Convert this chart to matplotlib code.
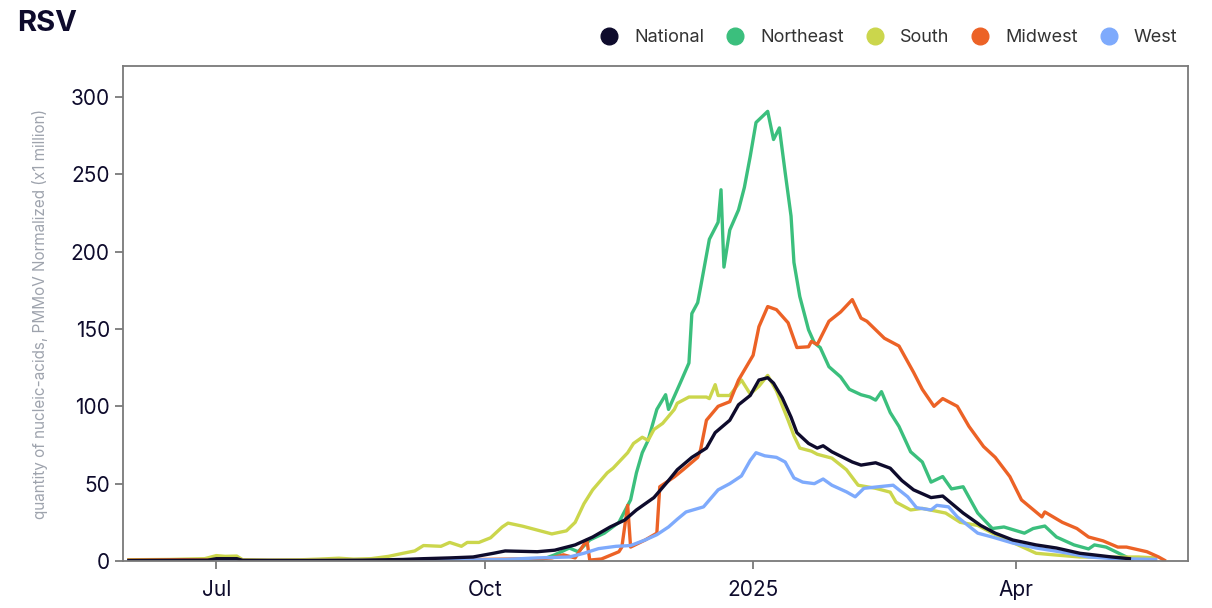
import matplotlib
matplotlib.use("Agg")
import matplotlib.pyplot as plt
from matplotlib.lines import Line2D
import pandas as pd

plt.rcParams['font.family'] = ['Inter', 'DejaVu Sans']

# --- data ---
national_dates = ["2024-06-01", "2024-06-28", "2024-07-01", "2024-07-08", "2024-07-10", "2024-08-01",
                  "2024-08-20", "2024-09-03", "2024-09-10", "2024-09-19", "2024-09-27", "2024-10-04",
                  "2024-10-08", "2024-10-19", "2024-10-25", "2024-11-01", "2024-11-07", "2024-11-13",
                  "2024-11-18", "2024-11-22", "2024-11-28", "2024-12-03", "2024-12-06", "2024-12-11",
                  "2024-12-16", "2024-12-19", "2024-12-24", "2024-12-27", "2024-12-31", "2025-01-03",
                  "2025-01-06", "2025-01-08", "2025-01-11", "2025-01-14", "2025-01-16", "2025-01-20",
                  "2025-01-23", "2025-01-25", "2025-01-28", "2025-02-04", "2025-02-07", "2025-02-12",
                  "2025-02-17", "2025-02-21", "2025-02-25", "2025-03-03", "2025-03-07", "2025-03-14",
                  "2025-03-20", "2025-03-25", "2025-03-31", "2025-04-08", "2025-04-15", "2025-04-23",
                  "2025-05-04", "2025-05-10"]
national_vals = [0.3, 0.5, 1.5, 1.5, 0.4, 0.3, 0.5, 1, 1.5, 2, 2.6, 5,
                 6.5, 6, 7, 10.4, 15.5, 22, 26.5, 33, 41, 52, 59, 67,
                 73, 83, 91, 101, 107, 117, 118.5, 115, 105.5, 93, 83, 76,
                 73, 74.5, 70.6, 64, 62, 63.5, 60, 52, 46, 41, 42, 31,
                 23, 18, 13.6, 10.4, 8.4, 5, 2.6, 1.5]

northeast_dates = ["2024-06-01", "2024-08-01", "2024-10-20", "2024-10-25", "2024-10-30", "2024-11-02",
                   "2024-11-06", "2024-11-11", "2024-11-16", "2024-11-20", "2024-11-22", "2024-11-24",
                   "2024-11-26", "2024-11-29", "2024-12-02", "2024-12-03", "2024-12-07", "2024-12-10",
                   "2024-12-11", "2024-12-13", "2024-12-14", "2024-12-17", "2024-12-20", "2024-12-21",
                   "2024-12-22", "2024-12-24", "2024-12-27", "2024-12-29", "2024-12-31", "2025-01-02",
                   "2025-01-06", "2025-01-08", "2025-01-10", "2025-01-12", "2025-01-14", "2025-01-15",
                   "2025-01-17", "2025-01-20", "2025-01-22", "2025-01-24", "2025-01-27", "2025-01-31",
                   "2025-02-03", "2025-02-07", "2025-02-10", "2025-02-12", "2025-02-14", "2025-02-17",
                   "2025-02-20", "2025-02-24", "2025-02-28", "2025-03-03", "2025-03-07", "2025-03-10",
                   "2025-03-14", "2025-03-19", "2025-03-24", "2025-03-28", "2025-04-04", "2025-04-07",
                   "2025-04-11", "2025-04-15", "2025-04-21", "2025-04-26", "2025-04-28", "2025-05-02",
                   "2025-05-09", "2025-05-11"]
northeast_vals = [0.2, 0.2, 0.5, 4, 8.4, 6,
                  13.6, 18, 25, 39.5, 57, 70,
                  78, 98, 107.5, 98, 115, 128,
                  160, 167, 177, 208, 219, 240,
                  190, 214, 227, 241.5, 261.5, 283.5,
                  290.7, 272.5, 280, 251, 223, 193,
                  171, 149.5, 141, 138, 125.6, 119,
                  111, 107.5, 106, 104, 109.5, 96,
                  87, 70.6, 64, 51, 54.6, 46.6,
                  48, 31, 21, 22, 18, 21,
                  22.6, 15.5, 10.4, 7.8, 10.4, 9,
                  2.6, 1]

south_dates = ["2024-06-01", "2024-06-15", "2024-06-27", "2024-07-01", "2024-07-04", "2024-07-08",
               "2024-07-10", "2024-07-19", "2024-07-30", "2024-08-05", "2024-08-12", "2024-08-17",
               "2024-08-23", "2024-08-29", "2024-09-03", "2024-09-07", "2024-09-10", "2024-09-16",
               "2024-09-19", "2024-09-23", "2024-09-25", "2024-09-29", "2024-10-03", "2024-10-07",
               "2024-10-09", "2024-10-14", "2024-10-20", "2024-10-24", "2024-10-29", "2024-11-01",
               "2024-11-04", "2024-11-07", "2024-11-12", "2024-11-14", "2024-11-19", "2024-11-21",
               "2024-11-24", "2024-11-26", "2024-11-28", "2024-12-01", "2024-12-05", "2024-12-06",
               "2024-12-10", "2024-12-16", "2024-12-17", "2024-12-19", "2024-12-20", "2024-12-24",
               "2024-12-28", "2024-12-31", "2025-01-03", "2025-01-06", "2025-01-09", "2025-01-13",
               "2025-01-15", "2025-01-17", "2025-01-21", "2025-01-23", "2025-01-28", "2025-02-02",
               "2025-02-06", "2025-02-12", "2025-02-17", "2025-02-19", "2025-02-24", "2025-02-28",
               "2025-03-08", "2025-03-13", "2025-03-19", "2025-03-24", "2025-03-31", "2025-04-08",
               "2025-04-14", "2025-04-23", "2025-05-04", "2025-05-13", "2025-05-19"]
south_vals = [0.8, 1.0, 1.5, 3.5, 3.0, 3.2,
              0.8, 0.6, 0.8, 1.2, 1.8, 1.2,
              1.5, 3, 5, 6.5, 10, 9.5,
              12, 9.5, 12, 12, 15, 22,
              24.5, 22.5, 19.5, 17.5, 19.5, 25,
              37, 46, 57, 60, 70, 76,
              80, 78, 85, 89, 98, 102,
              106, 106, 105, 114, 107, 107,
              117, 108, 113, 120, 110, 91,
              81, 73, 71, 69, 66.5, 59,
              49, 47, 44.5, 38, 33, 34,
              31, 25, 23, 18, 12, 5,
              4, 2.6, 2.5, 2.6, 2]

midwest_dates = ["2024-06-01", "2024-06-20", "2024-07-10", "2024-09-01", "2024-10-20", "2024-10-24",
                 "2024-10-28", "2024-11-01", "2024-11-05", "2024-11-06", "2024-11-10", "2024-11-16",
                 "2024-11-17", "2024-11-19", "2024-11-20", "2024-11-25", "2024-11-29", "2024-11-30",
                 "2024-12-05", "2024-12-08", "2024-12-13", "2024-12-14", "2024-12-16", "2024-12-20",
                 "2024-12-24", "2024-12-27", "2025-01-01", "2025-01-03", "2025-01-06", "2025-01-09",
                 "2025-01-13", "2025-01-16", "2025-01-20", "2025-01-21", "2025-01-23", "2025-01-27",
                 "2025-01-31", "2025-02-04", "2025-02-07", "2025-02-09", "2025-02-15", "2025-02-20",
                 "2025-02-25", "2025-02-28", "2025-03-04", "2025-03-07", "2025-03-12", "2025-03-16",
                 "2025-03-21", "2025-03-25", "2025-03-30", "2025-04-03", "2025-04-10", "2025-04-11",
                 "2025-04-17", "2025-04-22", "2025-04-26", "2025-05-01", "2025-05-06", "2025-05-09",
                 "2025-05-16", "2025-05-20", "2025-05-22"]
midwest_vals = [0.5, 0.8, 0.3, 0.3, 1.5, 2,
                4, 2, 13.6, 0.6, 1.3, 6,
                9, 36, 9, 13.6, 18, 48,
                54.4, 59, 67, 72, 91, 100,
                103, 117, 133, 151.5, 164.5, 162.5,
                154, 138, 138.5, 142, 140, 155,
                161, 169, 157, 155, 144, 139,
                122, 111, 100, 105, 100, 87,
                74, 67, 54.6, 39.5, 28.5, 31.7,
                25, 21, 15.5, 13, 9, 9,
                6, 2.6, 0.5]

west_dates = ["2024-06-01", "2024-09-01", "2024-10-01", "2024-10-08", "2024-10-19", "2024-10-30",
              "2024-11-04", "2024-11-09", "2024-11-15", "2024-11-20", "2024-11-25", "2024-11-29",
              "2024-12-03", "2024-12-06", "2024-12-09", "2024-12-15", "2024-12-20", "2024-12-24",
              "2024-12-28", "2024-12-31", "2025-01-02", "2025-01-05", "2025-01-09", "2025-01-12",
              "2025-01-15", "2025-01-18", "2025-01-22", "2025-01-25", "2025-01-28", "2025-02-02",
              "2025-02-05", "2025-02-08", "2025-02-13", "2025-02-18", "2025-02-23", "2025-02-26",
              "2025-03-03", "2025-03-05", "2025-03-09", "2025-03-12", "2025-03-19", "2025-03-24",
              "2025-03-31", "2025-04-08", "2025-04-16", "2025-04-26", "2025-05-04", "2025-05-19"]
west_vals = [0.2, 0.3, 0.8, 1, 2, 2.6,
             5, 8, 9.5, 10, 13.6, 17,
             22, 27, 31.7, 35, 46, 50,
             55, 65, 70, 68, 67, 64,
             53.7, 51, 50, 53, 49, 44.7,
             41.5, 47, 48, 49, 41.5, 34.5,
             33, 36, 35, 28.5, 18, 15.5,
             11.6, 8.4, 6, 2.6, 1.6, 1]

tick_dates = ["2024-07-01", "2024-10-01", "2025-01-01", "2025-04-01"]
tick_labels = ["Jul", "Oct", "2025", "Apr"]
y_ticks = [0, 50, 100, 150, 200, 250, 300]

series = [
    ("Northeast", northeast_dates, northeast_vals, "#3bbf7d"),
    ("South", south_dates, south_vals, "#cbd64c"),
    ("Midwest", midwest_dates, midwest_vals, "#ec6226"),
    ("West", west_dates, west_vals, "#7eaafc"),
    ("National", national_dates, national_vals, "#0e0b2c"),
]
legend_order = ["National", "Northeast", "South", "Midwest", "West"]

fig = plt.figure(figsize=(12.12, 6.08), dpi=100)
ax = fig.add_axes([0.1015, 0.0773, 0.8785, 0.8141])

colors = {}
for name, d, v, c in series:
    ax.plot(pd.to_datetime(d), v, color=c, lw=2.4, solid_joinstyle='round')
    colors[name] = c

ax.set_xlim(pd.Timestamp("2024-05-30"), pd.Timestamp("2025-05-30"))
ax.set_ylim(0, 320)
ax.set_xticks(pd.to_datetime(tick_dates))
ax.set_xticklabels(tick_labels)
ax.set_yticks(y_ticks)

for s in ax.spines.values():
    s.set_color("#7a7a7a")
    s.set_linewidth(1.3)
ax.tick_params(colors="#7a7a7a", labelcolor="#0e0b2c", labelsize=15, length=6, width=1.3)
ax.tick_params(axis='x', pad=8)

ax.set_ylabel("quantity of nucleic-acids, PMMoV Normalized (x1 million)", color="#9ea3ad", fontsize=11, labelpad=16)

fig.text(0.014, 0.962, "RSV", fontsize=21, fontweight='bold', color="#0e0b2c", va='center', ha='left')

handles = [Line2D([], [], marker='o', linestyle='none', markersize=12, color=colors[n]) for n in legend_order]
fig.legend(handles, legend_order, loc='center right', bbox_to_anchor=(0.985, 0.938), ncol=5, frameon=False,
           fontsize=13, handlelength=0.8, handletextpad=1.0, columnspacing=1.3, labelcolor="#333333")

fig.savefig("out.png", dpi=100)
